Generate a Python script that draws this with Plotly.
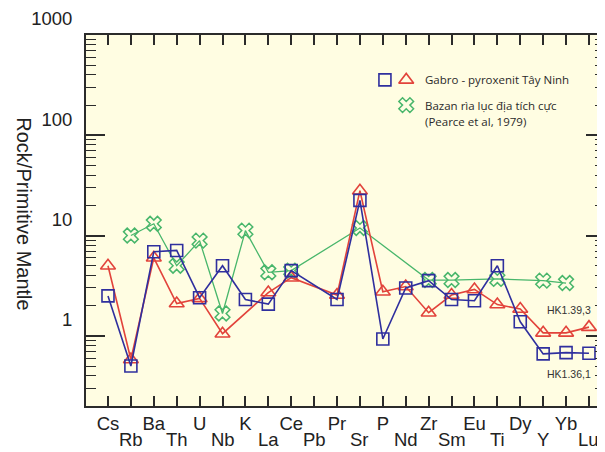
import math
import plotly.graph_objects as go

# ---------------- data ----------------
elements = ["Cs", "Rb", "Ba", "Th", "U", "Nb", "K", "La", "Ce", "Pb", "Pr",
            "Sr", "P", "Nd", "Zr", "Sm", "Eu", "Ti", "Dy", "Y", "Yb", "Lu"]
hk136_1 = [2.5, 0.50, 6.9, 7.1, 2.4, 5.0, 2.3, 2.07, 4.47, None, 2.3,
           22.4, 0.93, 3.0, 3.55, 2.3, 2.24, 5.0, 1.38, 0.66, 0.68, 0.67]
hk139_3 = [5.0, 0.58, 6.0, 2.1, 2.36, 1.05, None, 2.7, 3.8, None, 2.55,
           28.0, 2.75, 3.1, 1.7, 2.55, 2.9, 2.05, 1.85, 1.07, 1.07, 1.22]
pearce_1979 = [None, 10.0, 13.1, 5.0, 8.9, 1.67, 11.2, 4.3, 4.47, None, None,
               11.9, None, None, 3.6, 3.6, None, 3.69, None, 3.55, 3.36, None]
y_tick_values = [1, 10, 100, 1000]
y_tick_labels = ["1", "10", "100", "1000"]
y_title = "Rock/Primitive Mantle"
legend_labels = ["Gabro - pyroxenit Tây Ninh",
                 "Bazan rìa lục địa tích cực",
                 "(Pearce et al, 1979)"]
sample_labels = ["HK1.39,3", "HK1.36,1"]
sample_label_values = [1.82, 0.42]

# ---------------- style ----------------
BLUE = "#2f2f9e"
RED = "#e2433b"
GREEN = "#48b66b"
AXIS = "#2b2b2b"
BG = "#fffde2"
TICK_FONT = dict(family="Liberation Sans, Arial", size=18.5, color="#222222")
TITLE_FONT = dict(family="Liberation Sans, Arial", size=20, color="#222222")
SMALL_FONT = dict(family="Open Sans, Noto Sans", size=11.5, color="#2a2a2a")

x_idx = list(range(len(elements)))
x_range = [-0.96, 21.70]

fig = go.Figure()

fig.add_trace(go.Scatter(
    x=x_idx, y=pearce_1979, mode="lines+markers", connectgaps=True,
    line=dict(color=GREEN, width=1.3),
    marker=dict(symbol="x-open", size=13, color=GREEN, line=dict(color=GREEN, width=1.5)),
    showlegend=False, cliponaxis=False))
fig.add_trace(go.Scatter(
    x=x_idx, y=hk139_3, mode="lines+markers", connectgaps=True,
    line=dict(color=RED, width=1.6),
    marker=dict(symbol="triangle-up-open", size=13, color=RED, line=dict(color=RED, width=1.6)),
    showlegend=False, cliponaxis=False))
fig.add_trace(go.Scatter(
    x=x_idx, y=hk136_1, mode="lines+markers", connectgaps=True,
    line=dict(color=BLUE, width=1.6),
    marker=dict(symbol="square-open", size=12, color=BLUE, line=dict(color=BLUE, width=1.6)),
    showlegend=False, cliponaxis=False))

# legend glyphs on an overlay 0..1 axis pair
fig.add_trace(go.Scatter(
    x=[0.576], y=[0.879], xaxis="x2", yaxis="y2", mode="markers",
    marker=dict(symbol="square-open", size=12, color=BLUE, line=dict(color=BLUE, width=1.6)),
    showlegend=False, hoverinfo="skip"))
fig.add_trace(go.Scatter(
    x=[0.617], y=[0.879], xaxis="x2", yaxis="y2", mode="markers",
    marker=dict(symbol="triangle-up-open", size=13, color=RED, line=dict(color=RED, width=1.6)),
    showlegend=False, hoverinfo="skip"))
fig.add_trace(go.Scatter(
    x=[0.617], y=[0.811], xaxis="x2", yaxis="y2", mode="markers",
    marker=dict(symbol="x-open", size=13, color=GREEN, line=dict(color=GREEN, width=1.5)),
    showlegend=False, hoverinfo="skip"))

even_text = [e if i % 2 == 0 else "" for i, e in enumerate(elements)]

# page body has an 8px margin, so the figure is 8px smaller than the window
fig.update_layout(
    width=597, height=444,
    margin=dict(l=78, r=0, t=27, b=46, autoexpand=False),
    paper_bgcolor="white", plot_bgcolor=BG,
    showlegend=False,
    xaxis=dict(
        range=x_range, tickmode="array", tickvals=x_idx, ticktext=even_text,
        ticks="inside", ticklen=10, tickwidth=1.5, tickcolor=AXIS,
        showline=True, linecolor=AXIS, linewidth=2, mirror="ticks",
        showgrid=False, zeroline=False, tickfont=TICK_FONT,
        ticklabelstandoff=0, automargin=False),
    yaxis=dict(
        type="log", range=[-0.7, 3],
        tickmode="array", tickvals=y_tick_values, ticktext=y_tick_labels,
        ticks="inside", ticklen=19, tickwidth=1.5, tickcolor=AXIS,
        minor=dict(ticks="inside", ticklen=10, tickwidth=1.2, tickcolor=AXIS,
                   dtick="D1", showgrid=False),
        showline=True, linecolor=AXIS, linewidth=2, mirror="ticks",
        showgrid=False, zeroline=False, tickfont=TICK_FONT,
        ticklabelshift=-16, ticklabelstandoff=8, automargin=False),
    xaxis2=dict(overlaying="x", range=[0, 1], visible=False, anchor="y2"),
    yaxis2=dict(overlaying="y", range=[0, 1], visible=False, anchor="x2"),
)

# y-axis title, rotated clockwise as in the original
fig.add_annotation(text=y_title, xref="paper", yref="paper", x=-0.12, y=0.5175,
                   xanchor="center", yanchor="middle", textangle=90,
                   showarrow=False, font=TITLE_FONT)

# second row of element labels (odd positions)
for i, e in enumerate(elements):
    if i % 2 == 1:
        fig.add_annotation(text=e, xref="x", yref="paper", x=i, y=0,
                           xanchor="center", yanchor="middle", yshift=-33,
                           showarrow=False, font=TICK_FONT)

# legend texts
legend_y = [0.879, 0.811, 0.768]
for txt, yy in zip(legend_labels, legend_y):
    fig.add_annotation(text=txt, xref="paper", yref="paper", x=0.649, y=yy,
                       xanchor="left", yanchor="middle", showarrow=False,
                       font=SMALL_FONT)

# sample labels
for txt, val in zip(sample_labels, sample_label_values):
    fig.add_annotation(text=txt, xref="paper", yref="y", x=1, y=math.log10(val),
                       xanchor="right", yanchor="middle", xshift=-12,
                       showarrow=False,
                       font=dict(family="Liberation Sans, Arial", size=10.5, color="#333333"))

fig.write_html("out.html")
